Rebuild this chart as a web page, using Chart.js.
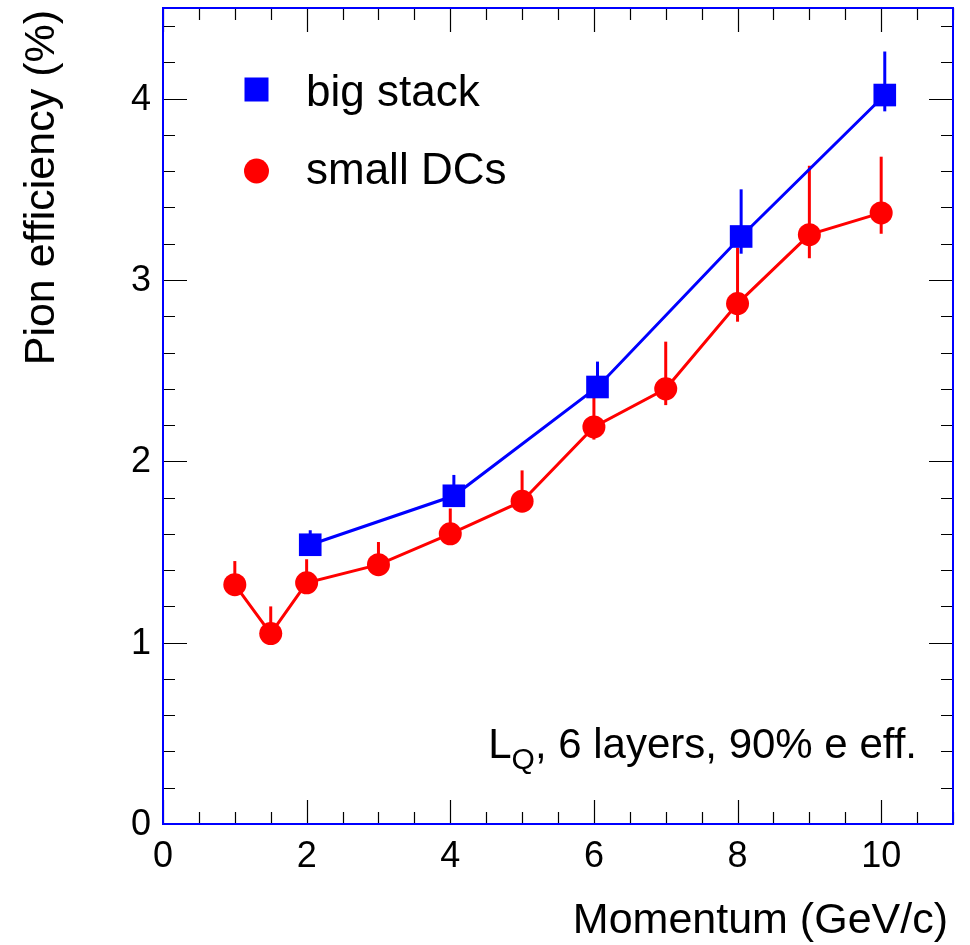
<!DOCTYPE html>
<html>
<head>
<meta charset="utf-8">
<title>Pion efficiency vs momentum</title>
<script src="https://cdn.jsdelivr.net/npm/chart.js@4.4.1/dist/chart.umd.min.js"></script>
<style>
  html, body { margin: 0; padding: 0; background: #ffffff; }
  canvas { display: block; }
</style>
</head>
<body>
<canvas id="c" width="970" height="945"></canvas>
<script>
// Pion efficiency (%) at 90% electron efficiency, LQ method, 6 layers
const bigStackP   = [2.05, 4.05, 6.05, 8.05, 10.05];
const bigStackEff = [1.54, 1.81, 2.41, 3.24, 4.02];
const bigStackHi  = [1.62, 1.925, 2.55, 3.50, 4.26];
const bigStackLo  = [1.49, 1.76, 2.36, 3.145, 3.93];

const smallDCsP   = [1, 1.5, 2, 3, 4, 5, 6, 7, 8, 9, 10];
const smallDCsEff = [1.32, 1.05, 1.33, 1.43, 1.60, 1.78, 2.19, 2.40, 2.87, 3.25, 3.37];
const smallDCsHi  = [1.45, 1.20, 1.46, 1.555, 1.74, 1.95, 2.36, 2.66, 3.18, 3.63, 3.68];
const smallDCsLo  = [1.27, 1.00, 1.28, 1.38, 1.55, 1.73, 2.12, 2.31, 2.77, 3.12, 3.255];

const xTickLabels = [0, 2, 4, 6, 8, 10];
const yTickLabels = [0, 1, 2, 3, 4];
const seriesNames = ['big stack', 'small DCs'];

const BLUE = '#0000ff';
const RED = '#ff0000';
const FONT = '"Liberation Sans", Arial, Helvetica, sans-serif';

function toPoints(xs, ys) {
  return xs.map((x, i) => ({ x: x, y: ys[i] }));
}

// vertical error bars, drawn just before the markers of their own series
const errorBars = {
  id: 'errorBars',
  beforeDatasetDraw(chart, args) {
    const ds = chart.data.datasets[args.index];
    if (!ds.errHi) return;
    const { ctx, scales: { x, y } } = chart;
    ctx.save();
    ctx.strokeStyle = ds.borderColor;
    ctx.lineWidth = 3;
    ctx.lineCap = 'butt';
    ds.data.forEach((p, i) => {
      const px = x.getPixelForValue(p.x);
      ctx.beginPath();
      ctx.moveTo(px, y.getPixelForValue(ds.errLo[i]));
      ctx.lineTo(px, y.getPixelForValue(ds.errHi[i]));
      ctx.stroke();
    });
    ctx.restore();
  }
};

// frame, inward ticks on all four sides, labels, titles, legend and note
const frameAndText = {
  id: 'frameAndText',
  afterDraw(chart) {
    const { ctx, chartArea: a, scales: { x, y } } = chart;
    const majX = 24, minX = 12, majY = 24, minY = 12;
    ctx.save();

    // ticks
    ctx.strokeStyle = '#000000';
    ctx.lineWidth = 1.2;
    ctx.beginPath();
    for (let v = 0; v <= 11.001; v += 0.5) {
      const px = Math.round(x.getPixelForValue(v)) + 0.5;
      const isMaj = xTickLabels.includes(Math.round(v * 10) / 10);
      const len = isMaj ? majX : minX;
      ctx.moveTo(px, a.bottom); ctx.lineTo(px, a.bottom - len);
      ctx.moveTo(px, a.top); ctx.lineTo(px, a.top + len);
    }
    for (let v = 0; v <= 4.5001; v += 0.2) {
      const py = Math.round(y.getPixelForValue(v)) + 0.5;
      const isMaj = yTickLabels.includes(Math.round(v * 10) / 10);
      const len = isMaj ? majY : minY;
      ctx.moveTo(a.left, py); ctx.lineTo(a.left + len, py);
      ctx.moveTo(a.right, py); ctx.lineTo(a.right - len, py);
    }
    ctx.stroke();

    // frame
    ctx.strokeStyle = BLUE;
    ctx.lineWidth = 2;
    ctx.strokeRect(a.left, a.top, a.right - a.left, a.bottom - a.top);

    // tick labels
    ctx.fillStyle = '#000000';
    ctx.font = '36px ' + FONT;
    ctx.textAlign = 'center';
    ctx.textBaseline = 'alphabetic';
    xTickLabels.forEach(v => {
      ctx.fillText(String(v), x.getPixelForValue(v), 867);
    });
    ctx.textAlign = 'right';
    ctx.textBaseline = 'middle';
    yTickLabels.forEach(v => {
      ctx.fillText(String(v), a.left - 12, y.getPixelForValue(v) + 1);
    });

    // axis titles
    ctx.font = '43px ' + FONT;
    ctx.textBaseline = 'alphabetic';
    ctx.textAlign = 'right';
    ctx.fillText('Momentum (GeV/c)', 948, 933);
    ctx.save();
    ctx.translate(54, 10);
    ctx.rotate(-Math.PI / 2);
    ctx.textAlign = 'right';
    ctx.fillText('Pion efficiency (%)', 0, 0);
    ctx.restore();

    // legend
    ctx.fillStyle = BLUE;
    ctx.fillRect(244.5, 77.5, 24, 24);
    ctx.fillStyle = RED;
    ctx.beginPath();
    ctx.arc(256.5, 171, 12.5, 0, Math.PI * 2);
    ctx.fill();
    ctx.fillStyle = '#000000';
    ctx.font = '44px ' + FONT;
    ctx.textAlign = 'left';
    ctx.fillText(seriesNames[0], 306, 106);
    ctx.fillText(seriesNames[1], 306, 184);

    // note: L_Q, 6 layers, 90% e eff.
    const base = 758;
    const rest = ', 6 layers, 90% e eff.';
    ctx.font = '42px ' + FONT;
    const wL = ctx.measureText('L').width;
    const wRest = ctx.measureText(rest).width;
    ctx.font = '30px ' + FONT;
    const wQ = ctx.measureText('Q').width;
    const sx = 917 - (wL + wQ + wRest);
    ctx.font = '42px ' + FONT;
    ctx.fillText('L', sx, base);
    ctx.font = '30px ' + FONT;
    ctx.fillText('Q', sx + wL, base + 11);
    ctx.font = '42px ' + FONT;
    ctx.fillText(rest, sx + wL + wQ, base);

    ctx.restore();
  }
};

new Chart(document.getElementById('c'), {
  type: 'scatter',
  data: {
    datasets: [
      {
        label: seriesNames[0],
        data: toPoints(bigStackP, bigStackEff),
        errHi: bigStackHi,
        errLo: bigStackLo,
        showLine: true,
        borderColor: BLUE,
        backgroundColor: BLUE,
        borderWidth: 3,
        pointStyle: 'rect',
        pointRadius: 16,
        pointBorderWidth: 0,
        pointHoverRadius: 16,
        tension: 0
      },
      {
        label: seriesNames[1],
        data: toPoints(smallDCsP, smallDCsEff),
        errHi: smallDCsHi,
        errLo: smallDCsLo,
        showLine: true,
        borderColor: RED,
        backgroundColor: RED,
        borderWidth: 3,
        pointStyle: 'circle',
        pointRadius: 11.5,
        pointBorderWidth: 0,
        pointHoverRadius: 11.5,
        tension: 0
      }
    ]
  },
  options: {
    responsive: false,
    animation: false,
    devicePixelRatio: 1,
    layout: { autoPadding: false, padding: { left: 163, top: 8, right: 17, bottom: 121 } },
    scales: {
      x: { type: 'linear', min: 0, max: 11, display: false },
      y: { type: 'linear', min: 0, max: 4.5, display: false }
    },
    plugins: {
      legend: { display: false },
      tooltip: { enabled: false }
    },
    events: []
  },
  plugins: [errorBars, frameAndText]
});
</script>
</body>
</html>
